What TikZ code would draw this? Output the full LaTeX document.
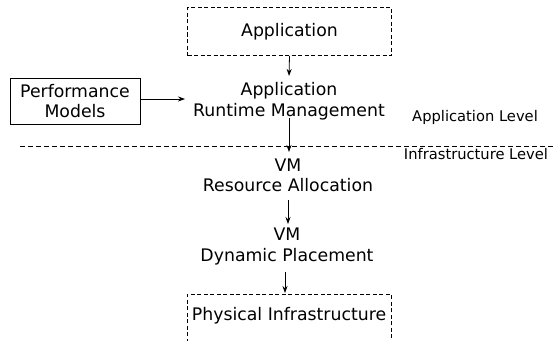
\documentclass[tikz,border=0pt]{standalone}
\usepackage{fontspec}
\setmainfont{DejaVu Sans}
\usetikzlibrary{arrows.meta}
\begin{document}
\begin{tikzpicture}[x=1pt,y=-1pt,
  lbl/.style={font=\fontsize{17.3}{20.5}\selectfont, align=center, inner sep=0pt},
  small/.style={font=\fontsize{14.7}{17}\selectfont, inner sep=0pt},
  dbox/.style={draw, line width=0.8pt, dash pattern=on 4pt off 2.5pt},
  arr/.style={-{Stealth[length=7pt,width=5pt]}, line width=0.8pt}]
\useasboundingbox (0,0) rectangle (553,340);
\clip (0,0) rectangle (553,340);
\node[dbox, minimum width=204pt, minimum height=48pt, inner sep=0pt, lbl] (app) at (289.5,31.5) {Application};
\node[lbl] (rtm) at (289,101) {Application\\Runtime Management};
\node[draw, line width=0.8pt, minimum width=130pt, minimum height=46pt, inner sep=0pt, lbl] (perf) at (75,101) {Performance\\Models};
\coordinate (ls) at (20,146);
\coordinate (le) at (553,146);
\draw[line width=0.8pt, dash pattern=on 5pt off 3pt] (ls) -- (le);
\node[small] (al) at (475,117) {Application Level};
\node[small] (il) at (476,154) {Infrastructure Level};
\node[lbl] (vra) at (288,175.5) {VM\\Resource Allocation};
\node[lbl] (vdp) at (287,246.5) {VM\\Dynamic Placement};
\node[dbox, minimum width=204pt, minimum height=48pt, inner sep=0pt, anchor=north] (phys) at (289,294) {};
\node[lbl] (pt) at (289,316) {Physical Infrastructure};
\draw[arr] (app.south) -- (289,76);
\draw[arr] (140,99) -- (185,99);
\draw[arr] (289,118) -- (289,152);
\draw[arr] (288,200) -- (288,224);
\draw[arr] (285,272) -- (285,293);
\end{tikzpicture}
\end{document}
